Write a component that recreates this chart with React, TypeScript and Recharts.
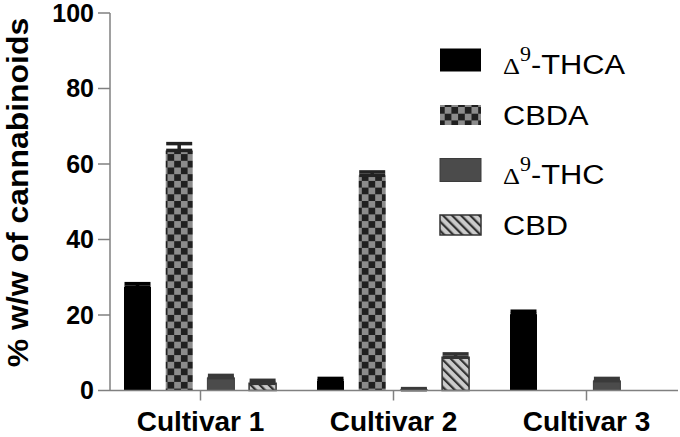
import { BarChart, Bar, XAxis, YAxis, ErrorBar, Legend } from 'recharts'

const categories = ['Cultivar 1', 'Cultivar 2', 'Cultivar 3']
const thca = [27.4, 2.6, 20.2]
const thcaErr = [0.9, 0.6, 0.8]
const cbda = [63.6, 57.0, null]
const cbdaErr = [1.8, 0.9, null]
const thc = [3.4, 0.2, 2.6]
const thcErr = [0.6, 0.3, 0.6]
const cbd = [1.9, 8.8, null]
const cbdErr = [0.8, 0.9, null]
const yTicks = [0, 20, 40, 60, 80, 100]
const seriesOrder = ['thca', 'cbda', 'thc', 'cbd']

const err = (v: number | null) => (v == null ? null : [0, v])

const data = categories.map((name, i) => ({
  name,
  thca: thca[i],
  thcaErr: err(thcaErr[i]),
  cbda: cbda[i],
  cbdaErr: err(cbdaErr[i]),
  thc: thc[i],
  thcErr: err(thcErr[i]),
  cbd: cbd[i],
  cbdErr: err(cbdErr[i]),
}))

const SANS = 'Liberation Sans, Arial, sans-serif'
const SERIF = 'Liberation Serif, Times New Roman, serif'

function LegendLabel({ name, x, y }: { name: string; x: number; y: number }) {
  const tf = `translate(${x},${y}) scale(1.1,1)`
  if (name.startsWith('Δ9')) {
    return (
      <text transform={tf} fontFamily={SANS} fontSize={28} fill="#000">
        <tspan fontFamily={SERIF} fontSize={24}>Δ</tspan>
        <tspan fontFamily={SERIF} fontSize={20} dy={-13}>9</tspan>
        <tspan dy={13}>{name.slice(2)}</tspan>
      </text>
    )
  }
  return (
    <text transform={tf} fontFamily={SANS} fontSize={28} fill="#000">
      {name}
    </text>
  )
}

function LegendContent(props: any) {
  const items = [...(props.payload || [])].sort(
    (a: any, b: any) => seriesOrder.indexOf(a.dataKey) - seriesOrder.indexOf(b.dataKey)
  )
  return (
    <svg width={240} height={210} style={{ display: 'block' }}>
      {items.map((it: any, i: number) => {
        const cy = 20 + i * 55
        const p = it.payload || {}
        const delta = String(it.value).startsWith('Δ9')
        const h = delta ? 23 : 20
        return (
          <g key={i}>
            <rect x={2} y={cy - h / 2} width={41} height={h} fill={it.color} stroke={p.stroke || 'none'} strokeWidth={p.strokeWidth || 0} />
            <LegendLabel name={String(it.value)} x={65} y={cy + (delta ? 13.5 : 10)} />
          </g>
        )
      })}
    </svg>
  )
}

function YLabel() {
  return (
    <text
      x={0}
      y={0}
      transform="translate(27.5,192.5) rotate(-90) scale(1.064,1)"
      textAnchor="middle"
      fontFamily={SANS}
      fontWeight="bold"
      fontSize={30}
      fill="#000"
    >
      % w/w of cannabinoids
    </text>
  )
}

export default function App() {
  return (
    <div style={{ position: 'absolute', left: 0, top: 0 }}>
      <BarChart width={680} height={437} data={data} margin={{ top: 13, right: 2, bottom: 6.5, left: 30 }} barSize={27} barGap={14.7}>
        <defs>
          <pattern id="checker" patternUnits="userSpaceOnUse" width={13.4} height={13.4}>
            <rect width={13.4} height={13.4} fill="#8c8c8c" />
            <rect width={6.7} height={6.7} fill="#202020" />
            <rect x={6.7} y={6.7} width={6.7} height={6.7} fill="#202020" />
          </pattern>
          <pattern id="hatch" patternUnits="userSpaceOnUse" width={6.4} height={6.4} patternTransform="rotate(-45)">
            <rect width={6.4} height={6.4} fill="#cbcbcb" />
            <rect width={2.2} height={6.4} fill="#333" />
          </pattern>
        </defs>
        <XAxis
          dataKey="name"
          height={40}
          padding={{ left: -6, right: -5 }}
          axisLine={{ stroke: '#808080', strokeWidth: 1.5 }}
          tickLine={{ stroke: '#808080', strokeWidth: 1.5 }}
          tickSize={10}
          tickMargin={11}
          tick={{ fill: '#000', fontFamily: SANS, fontWeight: 'bold', fontSize: 28 }}
        />
        <YAxis
          width={80}
          domain={[0, 100]}
          ticks={yTicks}
          interval={0}
          axisLine={{ stroke: '#808080', strokeWidth: 1.5 }}
          tickLine={{ stroke: '#808080', strokeWidth: 1.5 }}
          tickSize={12}
          tickMargin={4}
          tick={{ fill: '#000', fontFamily: SANS, fontWeight: 'bold', fontSize: 25 }}
          label={{ content: () => <YLabel /> }}
        />
        <Legend
          layout="horizontal"
          verticalAlign="middle"
          align="center"
          content={LegendContent}
          wrapperStyle={{ position: 'absolute', left: 438, top: 40, width: 240, height: 210 }}
        />
        <Bar dataKey="thca" name="Δ9-THCA" fill="#000" isAnimationActive={false}>
          <ErrorBar dataKey="thcaErr" direction="y" width={13} stroke="#000" strokeWidth={3.5} isAnimationActive={false} />
        </Bar>
        <Bar dataKey="cbda" name="CBDA" fill="url(#checker)" isAnimationActive={false}>
          <ErrorBar dataKey="cbdaErr" direction="y" width={13} stroke="#222" strokeWidth={3.5} isAnimationActive={false} />
        </Bar>
        <Bar dataKey="thc" name="Δ9-THC" fill="#4b4b4b" stroke="#3c3c3c" strokeWidth={1} isAnimationActive={false}>
          <ErrorBar dataKey="thcErr" direction="y" width={13} stroke="#3a3a3a" strokeWidth={3.5} isAnimationActive={false} />
        </Bar>
        <Bar dataKey="cbd" name="CBD" fill="url(#hatch)" stroke="#333" strokeWidth={1.5} isAnimationActive={false}>
          <ErrorBar dataKey="cbdErr" direction="y" width={13} stroke="#333" strokeWidth={3.5} isAnimationActive={false} />
        </Bar>
      </BarChart>
    </div>
  )
}
